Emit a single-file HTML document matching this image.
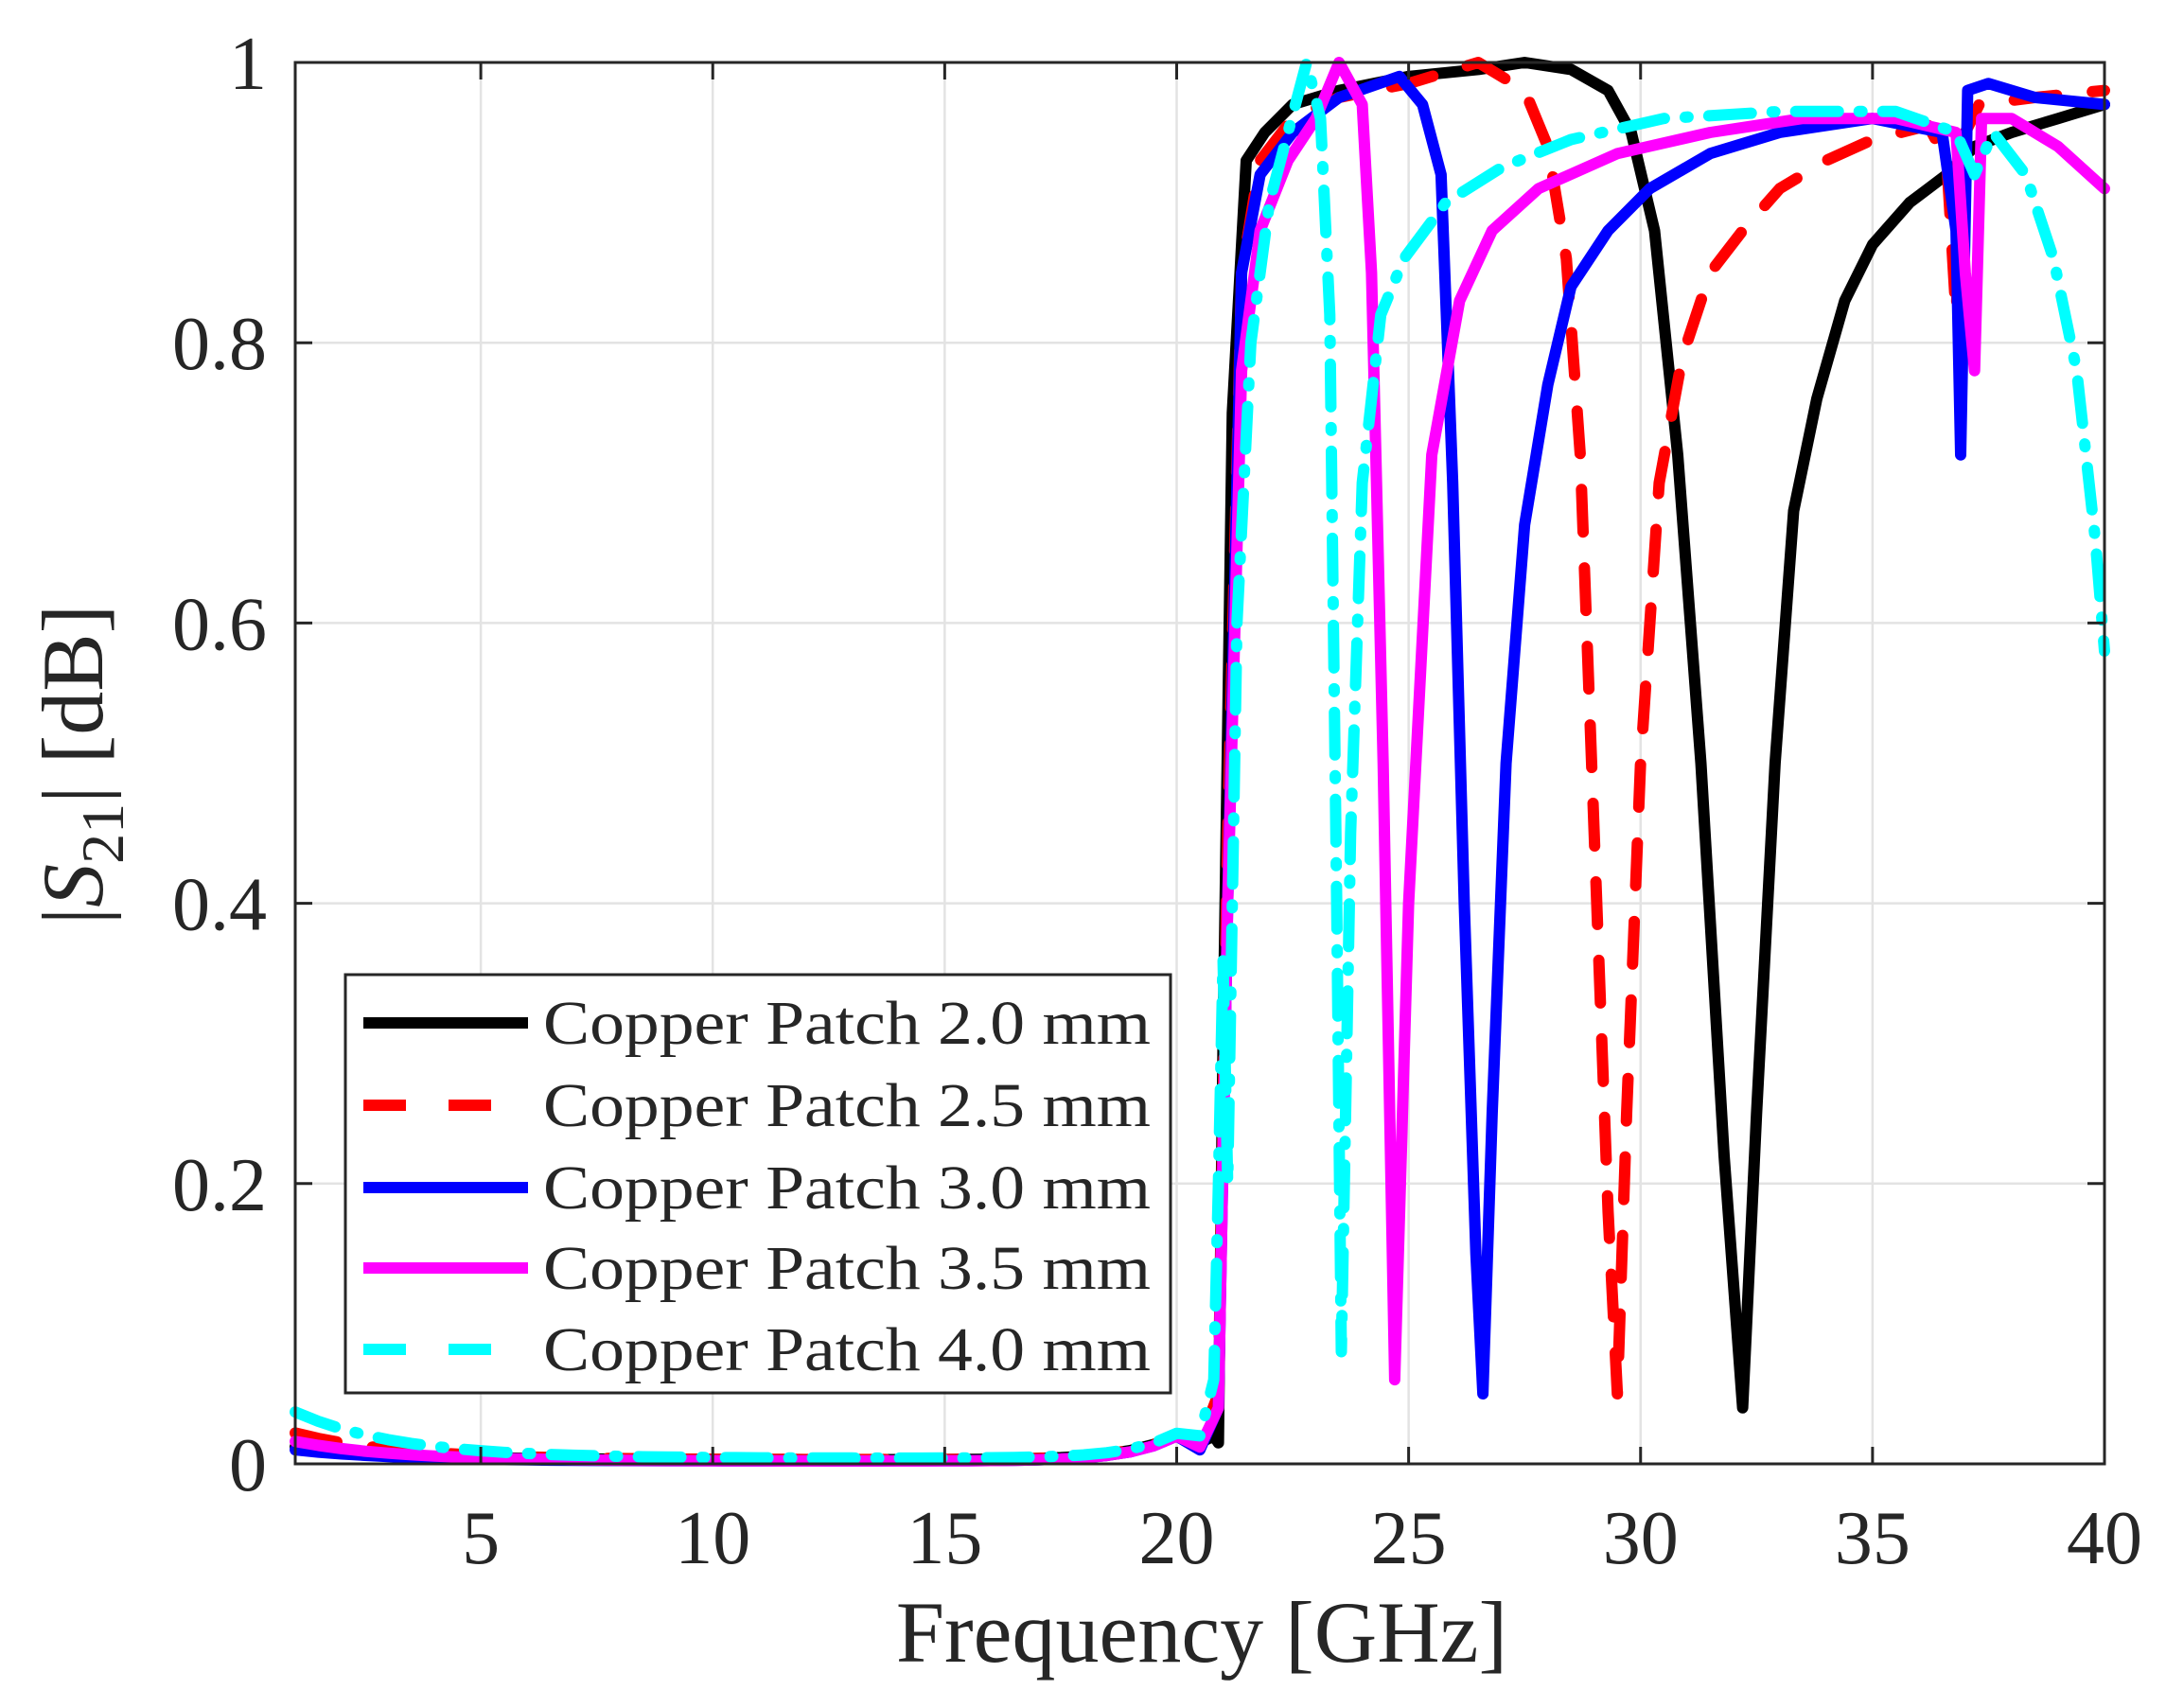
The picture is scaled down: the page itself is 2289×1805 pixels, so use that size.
<!DOCTYPE html>
<html><head><meta charset="utf-8"><style>
html,body{margin:0;padding:0;background:#fff;}
svg{display:block;}
text{font-family:"Liberation Serif","Times New Roman",serif;fill:#262626;}
</style></head><body>
<svg id="s" width="2289" height="1805" viewBox="0 0 2289 1805" xmlns="http://www.w3.org/2000/svg">
<g id="grid" stroke="#e3e3e3" stroke-width="2.5"></g>
<g id="curves" fill="none" stroke-linejoin="round" stroke-linecap="round" stroke-width="12"></g>
<rect x="312" y="66" width="1912" height="1481" fill="none" stroke="#262626" stroke-width="3"/>
<g id="ticks" stroke="#262626" stroke-width="3"></g>
<g id="labels" font-size="80"></g>
<text x="1270" y="1756" font-size="92" text-anchor="middle">Frequency [GHz]</text>
<text transform="translate(108,808) rotate(-90)" font-size="92" text-anchor="middle">|<tspan font-style="italic">S</tspan><tspan font-size="64" dy="22">21</tspan><tspan dy="-22">| [dB]</tspan></text>
<g id="legend">
<rect x="365" y="1030" width="872" height="442" fill="#fff" stroke="#262626" stroke-width="3"/>
</g>
</svg>
<script>
var X=function(f){return 312+(f-1)*1912/39;}, Y=function(v){return 1547-v*1481;};
var ns="http://www.w3.org/2000/svg";
function el(t,a,p){var e=document.createElementNS(ns,t);for(var k in a)e.setAttribute(k,a[k]);document.getElementById(p).appendChild(e);return e;}
[5,10,15,20,25,30,35].forEach(function(f){var x=X(f);el('line',{x1:x,y1:66,x2:x,y2:1547},'grid');
 el('line',{x1:x,y1:1547,x2:x,y2:1529},'ticks');el('line',{x1:x,y1:66,x2:x,y2:84},'ticks');});
[0.2,0.4,0.6,0.8].forEach(function(v){var y=Y(v);el('line',{x1:312,y1:y,x2:2224,y2:y},'grid');
 el('line',{x1:312,y1:y,x2:330,y2:y},'ticks');el('line',{x1:2206,y1:y,x2:2224,y2:y},'ticks');});
[5,10,15,20,25,30,35,40].forEach(function(f){var t=el('text',{x:X(f),y:1652,'text-anchor':'middle'},'labels');t.textContent=f;});
[[0,'0'],[0.2,'0.2'],[0.4,'0.4'],[0.6,'0.6'],[0.8,'0.8'],[1,'1']].forEach(function(p){var t=el('text',{x:282,y:Y(p[0])+28,'text-anchor':'end'},'labels');t.textContent=p[1];});
function low(a,b){var pts=[];for(var f=1;f<=20;f+=0.5){pts.push([f,b+(a-b)*Math.exp(-(f-1)/2.2)+0.00012*Math.exp(f-15)]);}return pts;}
var D={
k:low(0.012,0.003).concat([[20.5,0.015],[20.8,0.02],[20.9,0.015],[21.0,0.3],[21.2,0.75],[21.5,0.93],[21.9,0.95],[22.5,0.97],[23.5,0.98],[25,0.99],[26.5,0.995],[27.5,1.0],[28.5,0.995],[29.3,0.98],[29.8,0.95],[30.3,0.88],[30.8,0.72],[31.3,0.5],[31.8,0.22],[32.2,0.04],[32.5,0.25],[32.9,0.5],[33.3,0.68],[33.8,0.76],[34.4,0.83],[35,0.87],[35.8,0.9],[36.6,0.92],[37.2,0.94],[38,0.95],[39,0.96],[40,0.97]]),
r:low(0.022,0.003).concat([[20.5,0.015],[20.9,0.05],[21.1,0.45],[21.4,0.85],[21.8,0.93],[22.5,0.96],[23.5,0.975],[25,0.985],[26.5,1.0],[27.5,0.98],[28,0.94],[28.4,0.86],[28.7,0.72],[29.0,0.45],[29.3,0.18],[29.5,0.05],[29.7,0.25],[30.0,0.5],[30.4,0.7],[30.9,0.79],[31.5,0.85],[32.2,0.88],[33,0.91],[34,0.93],[35,0.945],[36.2,0.955],[36.6,0.93],[36.8,0.82],[37.0,0.95],[37.3,0.97],[38.5,0.975],[40,0.98]]),
b:low(0.01,0.002).concat([[20.5,0.01],[20.9,0.04],[21.1,0.4],[21.4,0.85],[21.8,0.92],[22.5,0.95],[23.5,0.975],[24.8,0.99],[25.3,0.97],[25.7,0.92],[25.95,0.7],[26.2,0.4],[26.45,0.15],[26.6,0.05],[26.8,0.25],[27.1,0.5],[27.5,0.67],[28,0.77],[28.5,0.84],[29.3,0.88],[30.2,0.91],[31.5,0.935],[33,0.95],[35,0.96],[36.5,0.95],[36.8,0.88],[36.9,0.72],[37.05,0.98],[37.5,0.985],[38.5,0.975],[40,0.97]]),
m:low(0.016,0.002).concat([[20.5,0.012],[20.9,0.04],[21.1,0.4],[21.4,0.78],[21.8,0.88],[22.4,0.93],[23.0,0.96],[23.5,1.0],[24.0,0.97],[24.2,0.85],[24.45,0.5],[24.7,0.06],[25.0,0.4],[25.5,0.72],[26.1,0.83],[26.8,0.88],[27.8,0.91],[29.5,0.935],[31.5,0.95],[33.5,0.96],[35.5,0.96],[36.8,0.95],[37.0,0.85],[37.2,0.78],[37.35,0.96],[38,0.96],[39,0.94],[40,0.91]]),
c:low(0.037,0.004).concat([[20.5,0.02],[20.8,0.06],[20.9,0.2],[21.0,0.36],[21.1,0.2],[21.3,0.6],[21.6,0.8],[22.0,0.9],[22.4,0.95],[22.8,1.0],[23.1,0.96],[23.3,0.82],[23.45,0.4],[23.55,0.08],[23.75,0.45],[24.0,0.7],[24.4,0.82],[24.9,0.86],[25.8,0.9],[27,0.925],[28.5,0.945],[30.5,0.96],[33,0.965],[35.5,0.965],[36.8,0.95],[37.2,0.92],[37.6,0.95],[38.3,0.92],[38.9,0.86],[39.4,0.78],[39.8,0.66],[40,0.58]])
};
var S={k:['#000',''],r:['#ff0000','45,38'],b:['#0000ff',''],m:['#ff00ff',''],c:['#00ffff','45,22,3,22']};
['k','r','b','m','c'].forEach(function(k){var d='';D[k].forEach(function(p,i){d+=(i?'L':'M')+X(p[0]).toFixed(1)+','+Y(p[1]).toFixed(1);});
 var a={d:d,stroke:S[k][0]};if(S[k][1])a['stroke-dasharray']=S[k][1];el('path',a,'curves');});
var names=['2.0','2.5','3.0','3.5','4.0'],ys=[1081,1168,1255,1340,1426];
['k','r','b','m','c'].forEach(function(k,i){var a={x1:384,y1:ys[i],x2:558,y2:ys[i],stroke:S[k][0],'stroke-width':12};
 if(k=='r')a['stroke-dasharray']='45,45';if(k=='c')a['stroke-dasharray']='45,45';el('line',a,'legend');
 var t=el('text',{x:574,y:ys[i]+22,'font-size':66,textLength:642,lengthAdjust:'spacingAndGlyphs'},'legend');t.textContent='Copper Patch '+names[i]+' mm';});
</script>
</body></html>
